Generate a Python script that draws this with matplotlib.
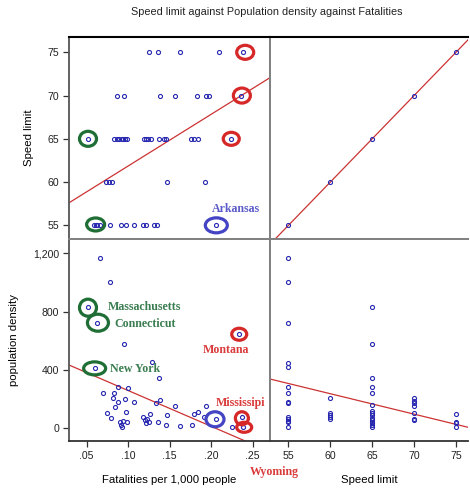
import numpy as np
import matplotlib
matplotlib.use("Agg")
import matplotlib.pyplot as plt
import matplotlib.transforms as mtransforms
from matplotlib.patches import Ellipse
from matplotlib.ticker import FuncFormatter

plt.rcParams['font.family'] = ['Liberation Sans', 'DejaVu Sans']

# ---------------- data ----------------
# top-left: Speed limit vs Fatalities per 1,000 people
fatal_tl = [0.125, 0.136, 0.162, 0.210, 0.238,
            0.087, 0.095, 0.139, 0.156, 0.183, 0.194, 0.198, 0.236,
            0.052, 0.083, 0.087, 0.089, 0.092, 0.094, 0.096, 0.099, 0.119, 0.122,
            0.124, 0.127, 0.137, 0.143, 0.146, 0.176, 0.179, 0.184, 0.224,
            0.073, 0.077, 0.081, 0.147, 0.193,
            0.059, 0.061, 0.063, 0.066, 0.078, 0.091, 0.098, 0.107, 0.118, 0.121,
            0.131, 0.135, 0.206]
speed_tl = [75] * 5 + [70] * 8 + [65] * 19 + [60] * 5 + [55] * 13

# bottom-left: population density vs Fatalities
fatal_bl = [0.066, 0.078, 0.052, 0.062, 0.095, 0.234, 0.060, 0.129, 0.137,
            0.088, 0.100, 0.070, 0.083, 0.082, 0.088, 0.096, 0.107, 0.084, 0.074,
            0.079, 0.098, 0.090, 0.094, 0.091, 0.092, 0.099, 0.118, 0.120, 0.123,
            0.126, 0.125, 0.122, 0.136, 0.134, 0.139, 0.147, 0.146, 0.157, 0.162,
            0.177, 0.179, 0.184, 0.194, 0.192, 0.206, 0.225, 0.237, 0.239]
dens_bl = [1168, 1003, 830, 722, 578, 645, 416, 452, 343,
           285, 278, 240, 244, 206, 182, 199, 182, 148, 107,
           73, 114, 45, 52, 23, 7, 45, 75, 57, 62,
           98, 45, 34, 45, 176, 194, 91, 23, 155, 16,
           23, 98, 114, 155, 80, 62, 7, 75, 7]

# bottom-right: population density vs Speed limit
speed_br = [55] * 14 + [60] * 5 + [65] * 15 + [70] * 7 + [75] * 4
dens_br = [1168, 1003, 722, 450, 418, 281, 240, 182, 176, 75, 64, 52, 41, 7,
           206, 107, 91, 75, 64,
           830, 578, 343, 285, 240, 160, 121, 107, 91, 73, 57, 45, 34, 23, 11,
           206, 189, 176, 155, 107, 64, 57,
           98, 45, 34, 11]

# top-right: Speed limit vs Speed limit
speed_levels = [55, 60, 65, 70, 75]

# fitted lines: (intercept, slope)
fit_tl = (55.89, 59.7)
fit_tr = (0.0, 1.0)
fit_bl = (504.4, -2453.0)
fit_br = (1077.2, -14.0)

fatal_ticks = [0.05, 0.10, 0.15, 0.20, 0.25]
speed_ticks = [55, 60, 65, 70, 75]
dens_ticks = [0, 400, 800, 1200]

# annotation rings: (x, y, width px, height px, colour)
rings_tl = [(0.0516, 65.0, 17, 15, 'green'), (0.0608, 55.1, 18, 13, 'green'),
            (0.2411, 75.0, 17, 14, 'red'), (0.2371, 70.0, 17, 15, 'red'),
            (0.2243, 65.0, 16, 13, 'red'), (0.2063, 55.0, 22, 15, 'blue')]
rings_bl = [(0.0516, 827, 17, 17, 'green'), (0.0636, 724, 21, 17, 'green'),
            (0.0596, 411, 22, 13, 'green'), (0.2339, 645, 15, 12, 'red'),
            (0.2047, 62, 18, 15, 'blue'), (0.2371, 69, 13, 13, 'red'),
            (0.2399, 7, 15, 10, 'red')]

DPI = 100
W, H = 470, 491
PT = '#2626b0'
LINE = '#cc3333'
RING = {'green': '#1f6e35', 'red': '#d62828', 'blue': '#4444c4'}
TXT = {'green': '#3a7d50', 'red': '#d93a3a', 'blue': '#5a5ac8'}

fig = plt.figure(figsize=(W / DPI, H / DPI), dpi=DPI)

def rect(x0, y0, x1, y1):
    return [x0 / W, 1 - y1 / H, (x1 - x0) / W, (y1 - y0) / H]

ax_tl = fig.add_axes(rect(69, 37, 270, 239))
ax_tr = fig.add_axes(rect(270, 37, 468, 239))
ax_bl = fig.add_axes(rect(69, 239, 270, 441))
ax_br = fig.add_axes(rect(270, 239, 468, 441))

FX = (0.0287, 0.271)
SX = (52.8, 76.44)
SY = (53.42, 76.77)
DY = (-87, 1298)

for ax in (ax_tl, ax_tr, ax_bl, ax_br):
    ax.set_facecolor('white')
    for s in ax.spines.values():
        s.set_color('#808080')
        s.set_linewidth(1.4)
    ax.spines['right'].set_visible(False)
    ax.tick_params(length=4, width=0.9, color='#333333', labelsize=7.6, pad=3,
                   labelcolor='#222222')

for ax in (ax_tl, ax_tr):
    ax.spines['top'].set_color('black')
    ax.spines['top'].set_linewidth(1.5)
for ax in (ax_bl, ax_br):
    ax.spines['bottom'].set_color('#333333')
    ax.spines['bottom'].set_linewidth(1.3)
for ax in (ax_tl, ax_bl):
    ax.spines['left'].set_color('#555555')
    ax.spines['left'].set_linewidth(1.3)
ax_tl.spines['right'].set_visible(True)
ax_bl.spines['right'].set_visible(True)

mk = dict(ls='none', marker='o', ms=2.9, mfc='none', mec=PT, mew=0.8, zorder=3)

def fitline(ax, fit, xlim):
    a, b = fit
    xs = np.array(xlim)
    ax.plot(xs, a + b * xs, color=LINE, lw=0.9, zorder=2)

# top-left
ax_tl.plot(fatal_tl, speed_tl, **mk)
fitline(ax_tl, fit_tl, FX)
ax_tl.set_xlim(FX); ax_tl.set_ylim(SY)
ax_tl.set_xticks([])
ax_tl.set_yticks(speed_ticks)
ax_tl.set_ylabel('Speed limit', fontsize=8.2, labelpad=10)

# top-right
ax_tr.plot(speed_levels, speed_levels, **mk)
fitline(ax_tr, fit_tr, SX)
ax_tr.set_xlim(SX); ax_tr.set_ylim(SY)
ax_tr.set_xticks([]); ax_tr.set_yticks([])

# bottom-left
ax_bl.plot(fatal_bl, dens_bl, **mk)
fitline(ax_bl, fit_bl, FX)
ax_bl.set_xlim(FX); ax_bl.set_ylim(DY)
ax_bl.set_xticks(fatal_ticks)
ax_bl.xaxis.set_major_formatter(FuncFormatter(lambda v, p: ('%.2f' % v)[1:]))
ax_bl.set_yticks(dens_ticks)
ax_bl.yaxis.set_major_formatter(FuncFormatter(lambda v, p: '{:,.0f}'.format(v)))
ax_bl.tick_params(axis='x', pad=3.5)
ax_bl.set_xlabel('Fatalities per 1,000 people', fontsize=8.2, labelpad=10)
ax_bl.set_ylabel('population density', fontsize=8.2, labelpad=10)

# bottom-right
ax_br.plot(speed_br, dens_br, **mk)
fitline(ax_br, fit_br, SX)
ax_br.set_xlim(SX); ax_br.set_ylim(DY)
ax_br.set_xticks(speed_ticks)
ax_br.set_yticks([])
ax_br.tick_params(axis='x', pad=3.5)
ax_br.set_xlabel('Speed limit', fontsize=8.2, labelpad=10)

def ring(ax, x, y, w, h, c):
    tr = fig.dpi_scale_trans + mtransforms.ScaledTranslation(x, y, ax.transData)
    e = Ellipse((0, 0), w / DPI, h / DPI, transform=tr, fill=False,
                ec=RING[c], lw=2.3, clip_on=False, zorder=5)
    ax.add_patch(e)

for r in rings_tl:
    ring(ax_tl, *r)
for r in rings_bl:
    ring(ax_bl, *r)

lab = dict(family=['Liberation Serif', 'DejaVu Serif'], fontweight='bold',
           fontsize=8.6, va='center', clip_on=False, zorder=6)
ax_tl.text(0.2299, 56.85, 'Arkansas', color=TXT['blue'], ha='center', **lab)
ax_bl.text(0.0756, 834, 'Massachusetts', color=TXT['green'], ha='left', **lab)
ax_bl.text(0.0828, 713, 'Connecticut', color=TXT['green'], ha='left', **lab)
ax_bl.text(0.0776, 405, 'New York', color=TXT['green'], ha='left', **lab)
ax_bl.text(0.2179, 537, 'Montana', color=TXT['red'], ha='center', **lab)
ax_bl.text(0.2059, 171, 'Mississipi', color=TXT['red'], ha='left', **lab)
ax_bl.text(0.2763, -300, 'Wyoming', color=TXT['red'], ha='center', **lab)

fig.text(267 / W, 1 - 12 / H, 'Speed limit against Population density against Fatalities',
         ha='center', va='center', fontsize=7.8, color='#222222')

fig.savefig('out.png', dpi=DPI, facecolor='white')
